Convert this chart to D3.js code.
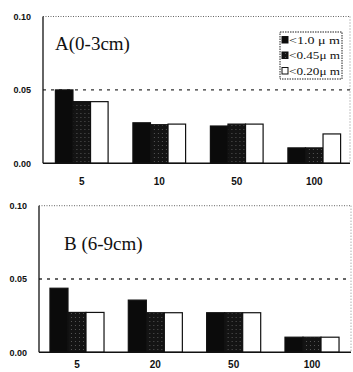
<!DOCTYPE html>
<html><head><meta charset="utf-8">
<script src="https://cdn.jsdelivr.net/npm/d3@7"></script>
<style>html,body{margin:0;padding:0;background:#fff;}svg{display:block;}</style>
</head><body>
<svg id="chart" width="353" height="372"></svg>
<script>
// ---- data ----
const seriesNames = ["<1.0 μ m", "<0.45μ m", "<0.20μ m"];
const seriesKeys = ["s1", "s2", "s3"];
const yTicks = [0.00, 0.05, 0.10];
const refLine = 0.05;

const titleA = "A(0-3cm)";
const categoriesA = ["5", "10", "50", "100"];
const a_lt10  = [0.050, 0.0276, 0.0254, 0.0105];
const a_lt045 = [0.042, 0.0263, 0.0267, 0.0105];
const a_lt020 = [0.042, 0.0267, 0.0267, 0.0200];

const titleB = "B (6-9cm)";
const categoriesB = ["5", "20", "50", "100"];
const b_lt10  = [0.0437, 0.0356, 0.027, 0.0103];
const b_lt045 = [0.0272, 0.0270, 0.027, 0.0103];
const b_lt020 = [0.0272, 0.0270, 0.027, 0.0103];

// ---- drawing ----
const svg = d3.select("#chart");
const defs = svg.append("defs");
const pat = defs.append("pattern").attr("id","hatch").attr("patternUnits","userSpaceOnUse")
  .attr("width",4).attr("height",4);
pat.append("rect").attr("width",4).attr("height",4).attr("fill","#141414");
pat.append("rect").attr("x",1).attr("y",1).attr("width",1).attr("height",1).attr("fill","#555");

const fills = {s1:"#0b0b0b", s2:"url(#hatch)", s3:"#ffffff"};

function panel(cfg) {
  const {cats, vals, left, right, top, bottom, bandRange, pIn, pOut, title, tx, ty, xPad} = cfg;
  const g = svg.append("g");
  const y = d3.scaleLinear().domain([0, 0.10]).range([bottom, top]);
  const x0 = d3.scaleBand().domain(cats).range(bandRange).paddingInner(pIn).paddingOuter(pOut);
  const x1 = d3.scaleBand().domain(seriesKeys).range([0, x0.bandwidth()]).padding(0);

  const rows = cats.map((c, i) => ({cat: c, s1: vals[0][i], s2: vals[1][i], s3: vals[2][i]}));

  // top dotted border
  g.append("line").attr("x1", left).attr("x2", right).attr("y1", y(0.10)).attr("y2", y(0.10))
    .attr("stroke", "#666").attr("stroke-width", 1).attr("stroke-dasharray", "1,1.5");
  // right dotted border
  g.append("line").attr("x1", right).attr("x2", right).attr("y1", y(0.10)).attr("y2", bottom)
    .attr("stroke", "#888").attr("stroke-width", 1).attr("stroke-dasharray", "1,2");
  // reference dashed line
  g.append("line").attr("x1", left).attr("x2", right).attr("y1", y(refLine)).attr("y2", y(refLine))
    .attr("stroke", "#333").attr("stroke-width", 1.3).attr("stroke-dasharray", "3,5");

  // bars
  const grp = g.selectAll("g.grp").data(rows).join("g").attr("class","grp")
    .attr("transform", d => `translate(${x0(d.cat)},0)`);
  grp.selectAll("rect").data(d => seriesKeys.map(k => ({key: k, v: d[k]}))).join("rect")
    .attr("x", d => x1(d.key)).attr("width", x1.bandwidth())
    .attr("y", d => y(d.v)).attr("height", d => y(0) - y(d.v))
    .attr("fill", d => fills[d.key]).attr("stroke", "#111").attr("stroke-width", 1.2);

  // left and bottom axis lines
  g.append("line").attr("x1", left).attr("x2", left).attr("y1", y(0.10)).attr("y2", bottom)
    .attr("stroke", "#111").attr("stroke-width", 1.3);
  g.append("line").attr("x1", left).attr("x2", right).attr("y1", bottom).attr("y2", bottom)
    .attr("stroke", "#111").attr("stroke-width", 1.5);

  // y axis labels
  const ya = g.append("g").attr("transform", `translate(${left},0)`)
    .call(d3.axisLeft(y).tickValues(yTicks).tickFormat(d3.format(".2f")).tickSize(0).tickPadding(12));
  ya.select(".domain").remove();
  ya.selectAll("text").attr("font-family", "Liberation Sans, Arial, sans-serif")
    .attr("font-weight", "bold").attr("font-size", 9).attr("fill", "#111");

  // x axis labels
  const xa = g.append("g").attr("transform", `translate(0,${bottom})`)
    .call(d3.axisBottom(x0).tickSize(0).tickPadding(xPad));
  xa.select(".domain").remove();
  xa.selectAll("text").attr("font-family", "Liberation Sans, Arial, sans-serif")
    .attr("font-weight", "bold").attr("font-size", 10).attr("fill", "#111");

  // title
  g.append("text").attr("x", tx).attr("y", ty).text(title)
    .attr("font-family", "Liberation Serif, Times New Roman, serif").attr("font-size", 19).attr("fill", "#111");
  return {g, y};
}

panel({cats: categoriesA, vals: [a_lt10, a_lt045, a_lt020], left: 43, right: 350, top: 16.5, bottom: 163.3,
  bandRange: [43, 353], pIn: 0.32, pOut: 0.16, title: titleA, tx: 55, ty: 50, xPad: 15});
panel({cats: categoriesB, vals: [b_lt10, b_lt045, b_lt020], left: 39, right: 351, top: 205.7, bottom: 352.3,
  bandRange: [39, 350], pIn: 0.31, pOut: 0.14, title: titleB, tx: 64, ty: 250, xPad: 9});

// legend (panel A)
const lg = svg.append("g").attr("transform", "translate(280,32)");
lg.append("rect").attr("width", 62).attr("height", 47).attr("fill", "#fff")
  .attr("stroke", "#222").attr("stroke-width", 1).attr("stroke-dasharray", "1.5,1");
seriesKeys.forEach((k, i) => {
  const yy = 8 + i * 15.5;
  lg.append("rect").attr("x", 2).attr("y", yy - 3.5).attr("width", 6).attr("height", 6.5)
    .attr("fill", fills[k]).attr("stroke", "#111").attr("stroke-width", 1);
  lg.append("text").attr("x", 9).attr("y", yy + 3.5).text(seriesNames[i])
    .attr("font-family", "Liberation Serif, Times New Roman, serif").attr("font-size", 10)
    .attr("textLength", 51).attr("lengthAdjust", "spacingAndGlyphs").attr("fill", "#111");
});
</script>
</body></html>
